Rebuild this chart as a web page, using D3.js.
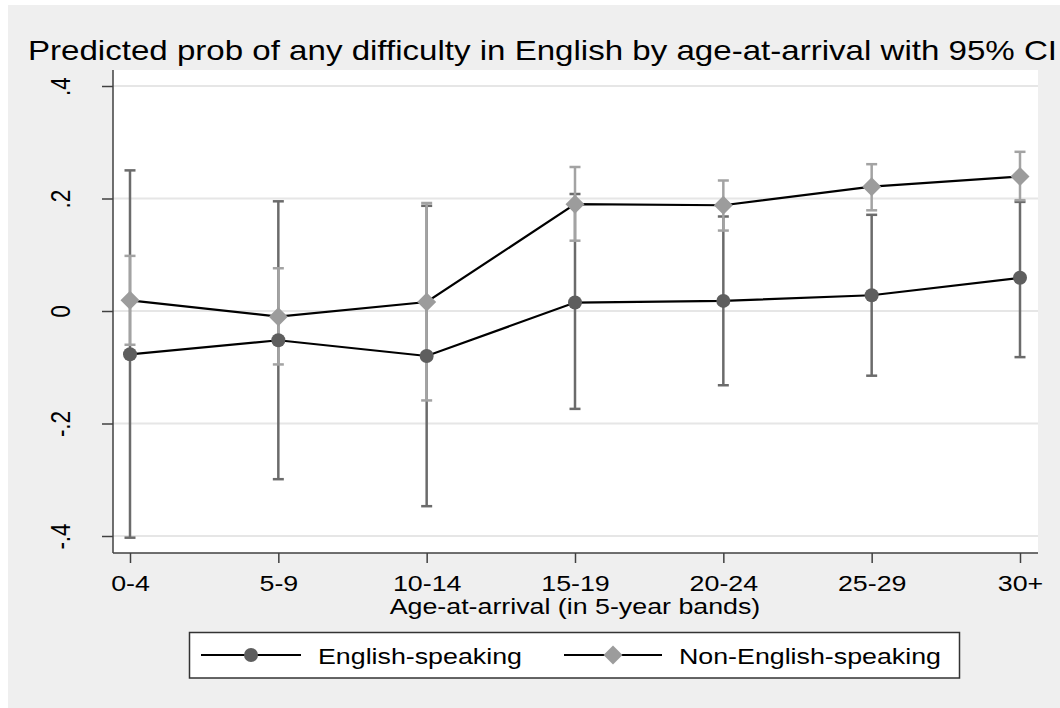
<!DOCTYPE html>
<html><head><meta charset="utf-8">
<script src="https://cdn.jsdelivr.net/npm/d3@7"></script>
<style>html,body{margin:0;padding:0;background:#fff;}svg{display:block;}text{font-family:"Liberation Sans",Arial,sans-serif;fill:#000;}</style>
</head><body>
<svg id="chart" width="1060" height="708"></svg>
<script>
const title = "Predicted prob of any difficulty in English by age-at-arrival with 95% CI";
const xTitle = "Age-at-arrival (in 5-year bands)";
const categories = ["0-4","5-9","10-14","15-19","20-24","25-29","30+"];
const yTicks = [-0.4,-0.2,0,0.2,0.4];
const yTickLabels = ["-.4","-.2","0",".2",".4"];
const seriesNames = ["English-speaking","Non-English-speaking"];
const engEst = [-0.077,-0.052,-0.080,0.015,0.018,0.028,0.059];
const engLo  = [-0.403,-0.299,-0.347,-0.174,-0.132,-0.115,-0.082];
const engHi  = [0.250,0.195,0.187,0.208,0.168,0.171,0.194];
const nonEst = [0.019,-0.010,0.016,0.190,0.188,0.221,0.239];
const nonLo  = [-0.060,-0.095,-0.159,0.125,0.143,0.179,0.197];
const nonHi  = [0.098,0.076,0.192,0.256,0.232,0.261,0.283];

const SX = 1.19;
const svg = d3.select("#chart");
const P = {l:113, r:1038, t:70, b:553};
const x = d3.scalePoint().domain(categories).range([130,1020]);
const y = d3.scaleLinear().domain([-0.4,0.4]).range([536,86]);

function stretch(sel, sx){
  sel.each(function(){
    const len = this.getComputedTextLength();
    d3.select(this).attr("textLength", len*sx).attr("lengthAdjust","spacingAndGlyphs");
  });
}

// backgrounds
svg.append("rect").attr("x",8).attr("y",5).attr("width",1052).attr("height",703).attr("fill","#efefef");
svg.append("rect").attr("x",P.l).attr("y",P.t).attr("width",P.r-P.l).attr("height",P.b-P.t).attr("fill","#fff");

// title
svg.append("text").attr("x",28).attr("y",60).attr("font-size",28).text(title)
  .attr("textLength",1029).attr("lengthAdjust","spacingAndGlyphs");

// gridlines
svg.append("g").selectAll("line").data(yTicks).join("line")
  .attr("x1",P.l).attr("x2",P.r).attr("y1",d=>y(d)).attr("y2",d=>y(d))
  .attr("stroke","#e6e6e6").attr("stroke-width",2);

// y axis
const yAxis = svg.append("g").attr("transform",`translate(${P.l},0)`)
  .call(d3.axisLeft(y).tickValues(yTicks).tickSize(11).tickFormat((d,i)=>yTickLabels[i]));
yAxis.select(".domain").attr("d",`M0,${P.t}V${P.b}`).attr("stroke","#404040").attr("stroke-width",1.5);
yAxis.selectAll(".tick line").attr("stroke","#404040").attr("stroke-width",1.5);
yAxis.selectAll(".tick text").attr("x",null).attr("dy",null).attr("font-size",22.5).attr("fill","#000")
  .attr("text-anchor","middle")
  .attr("transform",`translate(${70-P.l},0) scale(${SX},1) rotate(-90)`);

// x axis
const xAxis = svg.append("g").attr("transform",`translate(0,${P.b})`)
  .call(d3.axisBottom(x).tickSize(10).tickPadding(0));
xAxis.select(".domain").attr("d",`M${P.l},0H${P.r}`).attr("stroke","#404040").attr("stroke-width",1.5);
xAxis.selectAll(".tick line").attr("stroke","#404040").attr("stroke-width",1.5);
xAxis.selectAll(".tick text").attr("y",591-P.b).attr("dy",null).attr("font-size",22.5).attr("fill","#000").call(stretch,SX);

svg.append("text").attr("x",575).attr("y",614).attr("text-anchor","middle").attr("font-size",22.5).text(xTitle).call(stretch,SX);

// CI bars
const seriesDefs = [
  {name:seriesNames[0], est:engEst, lo:engLo, hi:engHi, ci:"#6b6b6b", mk:"#5e5e5e", shape:"circle"},
  {name:seriesNames[1], est:nonEst, lo:nonLo, hi:nonHi, ci:"#a3a3a3", mk:"#9c9c9c", shape:"diamond"}
];
const capW = 5.5;
seriesDefs.forEach(s=>{
  const g = svg.append("g");
  const rows = categories.map((c,i)=>({c, lo:s.lo[i], hi:s.hi[i]}));
  g.selectAll("line.v").data(rows).join("line").attr("class","v")
    .attr("x1",d=>x(d.c)).attr("x2",d=>x(d.c)).attr("y1",d=>y(d.lo)).attr("y2",d=>y(d.hi))
    .attr("stroke",s.ci).attr("stroke-width",2.5);
  ["lo","hi"].forEach(k=>{
    g.selectAll("line."+k).data(rows).join("line").attr("class",k)
      .attr("x1",d=>x(d.c)-capW).attr("x2",d=>x(d.c)+capW).attr("y1",d=>y(d[k])).attr("y2",d=>y(d[k]))
      .attr("stroke",s.ci).attr("stroke-width",2.5);
  });
});

// lines
const line = d3.line().x(d=>x(d.c)).y(d=>y(d.v));
seriesDefs.forEach(s=>{
  svg.append("path").datum(categories.map((c,i)=>({c, v:s.est[i]})))
    .attr("d",line).attr("fill","none").attr("stroke","#000").attr("stroke-width",2.2);
});

// markers
const circleSym = d3.symbol().type(d3.symbolCircle).size(Math.PI*7*7);
const diamondPath = r => `M0,${-r}L${r},0L0,${r}L${-r},0Z`;
function marker(g, s, cx, cy){
  if(s.shape==="circle"){
    g.append("path").attr("d",circleSym()).attr("transform",`translate(${cx},${cy})`).attr("fill",s.mk);
  } else {
    g.append("path").attr("d",diamondPath(9.5)).attr("transform",`translate(${cx},${cy})`).attr("fill",s.mk);
  }
}
seriesDefs.forEach(s=>{
  const g = svg.append("g");
  categories.forEach((c,i)=>marker(g,s,x(c),y(s.est[i])));
});

// legend
const lg = svg.append("g");
lg.append("rect").attr("x",189.5).attr("y",632.5).attr("width",770).attr("height",45.5)
  .attr("fill","#fff").attr("stroke","#333").attr("stroke-width",1.5);
const legItems = [{s:seriesDefs[0], x0:201, x1:301, tx:318},{s:seriesDefs[1], x0:564, x1:662, tx:679}];
legItems.forEach(it=>{
  lg.append("line").attr("x1",it.x0).attr("x2",it.x1).attr("y1",655).attr("y2",655).attr("stroke","#000").attr("stroke-width",2.2);
  marker(lg,it.s,(it.x0+it.x1)/2,655);
  lg.append("text").attr("x",it.tx).attr("y",664).attr("font-size",22.5).text(it.s.name).call(stretch,SX);
});
</script>
</body></html>
